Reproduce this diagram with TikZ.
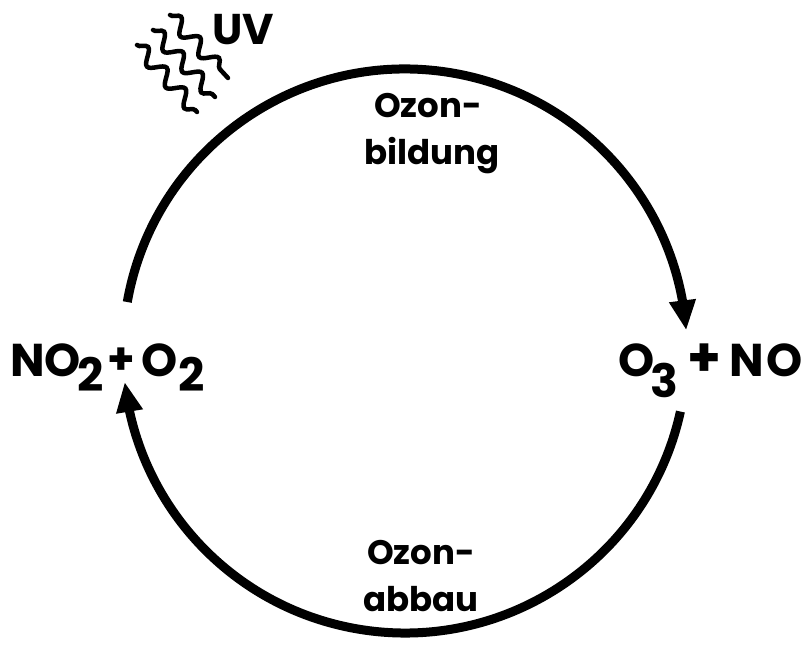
\documentclass[tikz,border=0pt]{standalone}
\usepackage{fontspec}
\setmainfont{Poppins}
\usetikzlibrary{arrows.meta,decorations.pathmorphing,bending,calc}
\newcommand\lowsub[2]{\raisebox{-#1}{#2}}
\begin{document}
\begin{tikzpicture}[x=1pt,y=1pt,
  cyc/.style={line width=9pt,-{Triangle[width=25pt,length=30pt,flex]}},
  wave/.style={line width=4.5pt,line cap=round,decorate,decoration={snake,segment length=28,amplitude=7}},
  lbl/.style={inner sep=0pt,font=\bfseries\fontsize{34}{34}\selectfont},
  chem/.style={inner sep=0pt,font=\bfseries\fontsize{46}{46}\selectfont},
  uvlbl/.style={inner sep=0pt,font=\bfseries\fontsize{43}{43}\selectfont}]
\useasboundingbox (0,0) rectangle (804,648);
\coordinate (C) at (405,297);
\coordinate (upS) at ($(C)+(170:282)$);
\coordinate (loS) at ($(C)+(-12.4:282)$);
% upper arc: formation
\draw[cyc] (upS) arc[start angle=170,end angle=4.2,radius=282];
% lower arc: decomposition
\draw[cyc] (loS) arc[start angle=-12.4,end angle=-173.7,radius=282];
% UV waves
\coordinate (w1a) at (170,633); \coordinate (w1b) at (228,570);
\coordinate (w2a) at (153,618); \coordinate (w2b) at (215,551);
\coordinate (w3a) at (137,603); \coordinate (w3b) at (197,536);
\draw[wave] (w1a) -- (w1b);
\draw[wave] (w2a) -- (w2b);
\draw[wave] (w3a) -- (w3b);
\node[uvlbl,anchor=base] (uv) at (243,603) {UV};
% labels
\node[lbl,anchor=base] (bt1) at (428,530) {Ozon-};
\node[lbl,anchor=base] (bt2) at (432,483) {bildung};
\node[lbl,anchor=base] (ab1) at (421,83) {Ozon-};
\node[lbl,anchor=base] (ab2) at (421,36) {abbau};
\node[chem,anchor=base west] (left) at (10,271)
  {NO\kern-3pt\lowsub{15pt}{2}\kern3pt{\fontsize{44}{44}\selectfont\raisebox{2pt}{+}}\kern7pt O\kern0pt\lowsub{15pt}{2}};
\node[chem,anchor=base east] (right) at (803,271)
  {O\kern-4pt\lowsub{21pt}{3}\kern9pt{\fontsize{54}{54}\selectfont +}\kern8pt N\kern3pt O};
\end{tikzpicture}
\end{document}
